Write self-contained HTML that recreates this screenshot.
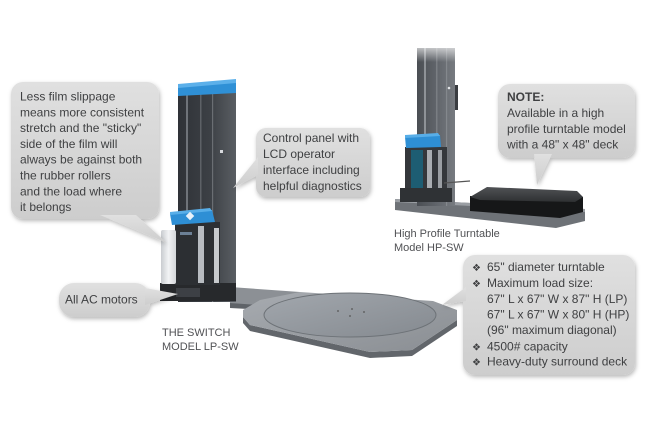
<!DOCTYPE html>
<html><head><meta charset="utf-8"><style>
html,body{margin:0;padding:0;background:#fff;}
svg{display:block;}
text{font-family:"Liberation Sans","DejaVu Sans",sans-serif;fill:#3f4042;}
</style></head><body>
<svg width="650" height="434" viewBox="0 0 650 434" xmlns="http://www.w3.org/2000/svg">
<defs>
<filter id="sh" x="-20%" y="-20%" width="140%" height="150%">
<feDropShadow dx="1" dy="2" stdDeviation="2" flood-color="#000" flood-opacity="0.28"/>
</filter>
<linearGradient id="bg" x1="0" y1="0" x2="0" y2="1">
<stop offset="0" stop-color="#e0e0e0"/><stop offset="1" stop-color="#cdcdcd"/>
</linearGradient>
<linearGradient id="col" x1="0" y1="0" x2="1" y2="0">
<stop offset="0" stop-color="#2f3237"/><stop offset="0.55" stop-color="#3c4045"/><stop offset="1" stop-color="#5a5e63"/>
</linearGradient>
<linearGradient id="col2" x1="0" y1="0" x2="1" y2="0">
<stop offset="0" stop-color="#4a4e53"/><stop offset="0.5" stop-color="#60646a"/><stop offset="1" stop-color="#777b80"/>
</linearGradient>
<linearGradient id="hpfade" x1="0" y1="0" x2="0" y2="1">
<stop offset="0" stop-color="#fff" stop-opacity="1"/><stop offset="1" stop-color="#fff" stop-opacity="0"/>
</linearGradient>
<linearGradient id="deck" x1="0" y1="0" x2="1" y2="1">
<stop offset="0" stop-color="#a7abb0"/><stop offset="1" stop-color="#8a8e93"/>
</linearGradient>
<linearGradient id="tt" x1="0" y1="0" x2="1" y2="1">
<stop offset="0" stop-color="#a2a7ad"/><stop offset="1" stop-color="#858a90"/>
</linearGradient>
<linearGradient id="roll" x1="0" y1="0" x2="1" y2="0">
<stop offset="0" stop-color="#c9ccd0"/><stop offset="0.5" stop-color="#f2f3f5"/><stop offset="1" stop-color="#d4d7da"/>
</linearGradient>
<linearGradient id="hpdeck" x1="0" y1="0" x2="0" y2="1">
<stop offset="0" stop-color="#505255"/><stop offset="1" stop-color="#2e3032"/>
</linearGradient>
</defs>

<!-- ============ LP machine ============ -->
<polygon points="230,287 300,292 300,310 230,305" fill="#8c9095"/>
<polygon points="230,303 300,308 300,312 230,308" fill="#5f6368"/>
<polygon points="243,317 250,325 370,352 412,350 457,320 457,326 412,356 370,358 250,331 243,323" fill="#62666b"/>
<polygon points="300,292 433,301 457,310 457,320 412,350 370,352 250,325 243,317 243,310 260,300" fill="url(#deck)"/>
<ellipse cx="350" cy="315" rx="86" ry="22" fill="url(#tt)" stroke="#6d7277" stroke-width="1"/>
<circle cx="338" cy="311" r="0.9" fill="#555"/><circle cx="352" cy="309" r="0.9" fill="#555"/><circle cx="364" cy="312" r="0.9" fill="#555"/><circle cx="350" cy="316" r="0.9" fill="#555"/>

<polygon points="178,88 236,84 236,302 178,302" fill="url(#col)"/>
<rect x="186" y="92" width="2" height="120" fill="#6f7379"/>
<rect x="200" y="92" width="1.5" height="120" fill="#5d6166"/>
<rect x="212" y="88" width="1.2" height="214" fill="#6a6e73"/>
<rect x="220" y="150" width="3" height="3" fill="#d8dade"/>
<polygon points="178,86 236,81 236,93 178,96" fill="#2f90d6"/>
<polygon points="178,84 236,79 236,83 178,88" fill="#5cb0ea"/>
<rect x="160" y="283" width="76" height="18" fill="#27292c"/>
<rect x="176" y="288" width="24" height="9" fill="#3d4045"/>
<rect x="175" y="222" width="45" height="63" fill="#2c2f33"/>
<rect x="198" y="226" width="6" height="57" fill="#b8bcc1"/>
<rect x="214" y="228" width="5" height="55" fill="#c7cacd"/>
<rect x="180" y="232" width="12" height="3" fill="#6c8096"/>
<rect x="161" y="230" width="15" height="54" rx="2" fill="url(#roll)"/>
<polygon points="170,214 212,210 215,222 172,225" fill="#2e8fd5"/>
<polygon points="170,212 210,208 212,211 170,215" fill="#58aee8"/>
<rect x="187" y="213" width="6" height="6" fill="#e8f2fa" transform="rotate(45 190 216)"/>

<!-- ============ HP machine ============ -->
<!-- base frame -->
<polygon points="395,199 585,209 585,221 556,228 395,210" fill="#6e7277"/>
<polygon points="395,199 585,209 585,212 395,202" fill="#9a9ea3"/>
<!-- column -->
<rect x="417" y="48" width="38" height="158" fill="url(#col2)"/>
<rect x="424" y="48" width="2" height="120" fill="#8e9297"/>
<rect x="436" y="48" width="1.5" height="120" fill="#7a7e83"/>
<rect x="446" y="48" width="1.2" height="158" fill="#84888d"/>
<rect x="455" y="85" width="3" height="25" fill="#3a3d41"/>
<circle cx="449" cy="88" r="1.3" fill="#e4e6e9"/>
<rect x="415" y="40" width="44" height="22" fill="url(#hpfade)"/>
<!-- roller area -->
<rect x="405" y="147" width="42" height="44" fill="#34373b"/>
<rect x="411" y="150" width="12" height="38" fill="#1d5d73"/>
<rect x="427" y="150" width="5" height="38" fill="#a9adb2"/>
<rect x="438" y="150" width="4" height="38" fill="#9a9ea3"/>
<rect x="400" y="188" width="52" height="14" fill="#2f3235"/>
<line x1="444" y1="183" x2="470" y2="181" stroke="#555" stroke-width="1.2"/>
<!-- carriage -->
<polygon points="405,137 440,135 441,147 406,148" fill="#2e8fd5"/>
<polygon points="405,135 438,133 440,136 405,138" fill="#58aee8"/>
<!-- deck -->
<polygon points="470,196 583,197 583,212 560,218 470,211" fill="#161718"/>
<polygon points="470,197 487,187 577,191 583,197 575,202 480,200" fill="url(#hpdeck)"/>

<!-- ============ Bubbles ============ -->
<g filter="url(#sh)" fill="url(#bg)">
<rect x="11" y="82" width="148" height="137" rx="12"/>
<polygon points="100,215 167,243 136,215"/>
</g>
<g filter="url(#sh)" fill="url(#bg)">
<rect x="256" y="128" width="114" height="69" rx="10"/>
<polygon points="258,157 233,188 258,175"/>
</g>
<g filter="url(#sh)" fill="url(#bg)">
<rect x="498" y="84" width="137" height="74" rx="12"/>
<polygon points="534,154 537,185 552,154"/>
</g>
<g filter="url(#sh)" fill="url(#bg)">
<rect x="463" y="255" width="172" height="120" rx="12"/>
<polygon points="466,287 442,305 466,301"/>
</g>
<g filter="url(#sh)" fill="url(#bg)">
<rect x="59" y="283" width="91" height="34" rx="15"/>
<polygon points="145,288 178,294 145,305"/>
</g>

<!-- ============ Text ============ -->
<g font-size="12">
<text x="20" y="100.5">Less film slippage</text>
<text x="20" y="116.3">means more consistent</text>
<text x="20" y="132.1">stretch and the "sticky"</text>
<text x="20" y="147.9">side of the film will</text>
<text x="20" y="163.7">always be against both</text>
<text x="20" y="179.5">the rubber rollers</text>
<text x="20" y="195.3">and the load where</text>
<text x="20" y="211.1">it belongs</text>

<text x="263" y="142">Control panel with</text>
<text x="263" y="158">LCD operator</text>
<text x="263" y="174">interface including</text>
<text x="263" y="190">helpful diagnostics</text>

<text x="507" y="101" font-weight="bold">NOTE:</text>
<text x="507" y="117">Available in a high</text>
<text x="507" y="133">profile turntable model</text>
<text x="507" y="148.5">with a 48" x 48" deck</text>

<text x="65" y="303.5">All AC motors</text>
</g>
<g font-size="12">
<text x="472" y="271" font-size="10" style="font-family:'DejaVu Sans',sans-serif">❖</text>
<text x="487" y="271">65" diameter turntable</text>
<text x="472" y="287" font-size="10" style="font-family:'DejaVu Sans',sans-serif">❖</text>
<text x="487" y="287">Maximum load size:</text>
<text x="487" y="303">67" L x 67" W x 87" H (LP)</text>
<text x="487" y="318.5">67" L x 67" W x 80" H (HP)</text>
<text x="487" y="334">(96" maximum diagonal)</text>
<text x="472" y="350.5" font-size="10" style="font-family:'DejaVu Sans',sans-serif">❖</text>
<text x="487" y="350.5">4500# capacity</text>
<text x="472" y="365.5" font-size="10" style="font-family:'DejaVu Sans',sans-serif">❖</text>
<text x="487" y="365.5">Heavy-duty surround deck</text>
</g>
<g font-size="11">
<text x="394" y="237" style="fill:#505154">High Profile Turntable</text>
<text x="394" y="251" style="fill:#505154">Model HP-SW</text>
<text x="162" y="336" style="fill:#505154">THE SWITCH</text>
<text x="162" y="350" style="fill:#505154">MODEL LP-SW</text>
</g>
</svg>
</body></html>
